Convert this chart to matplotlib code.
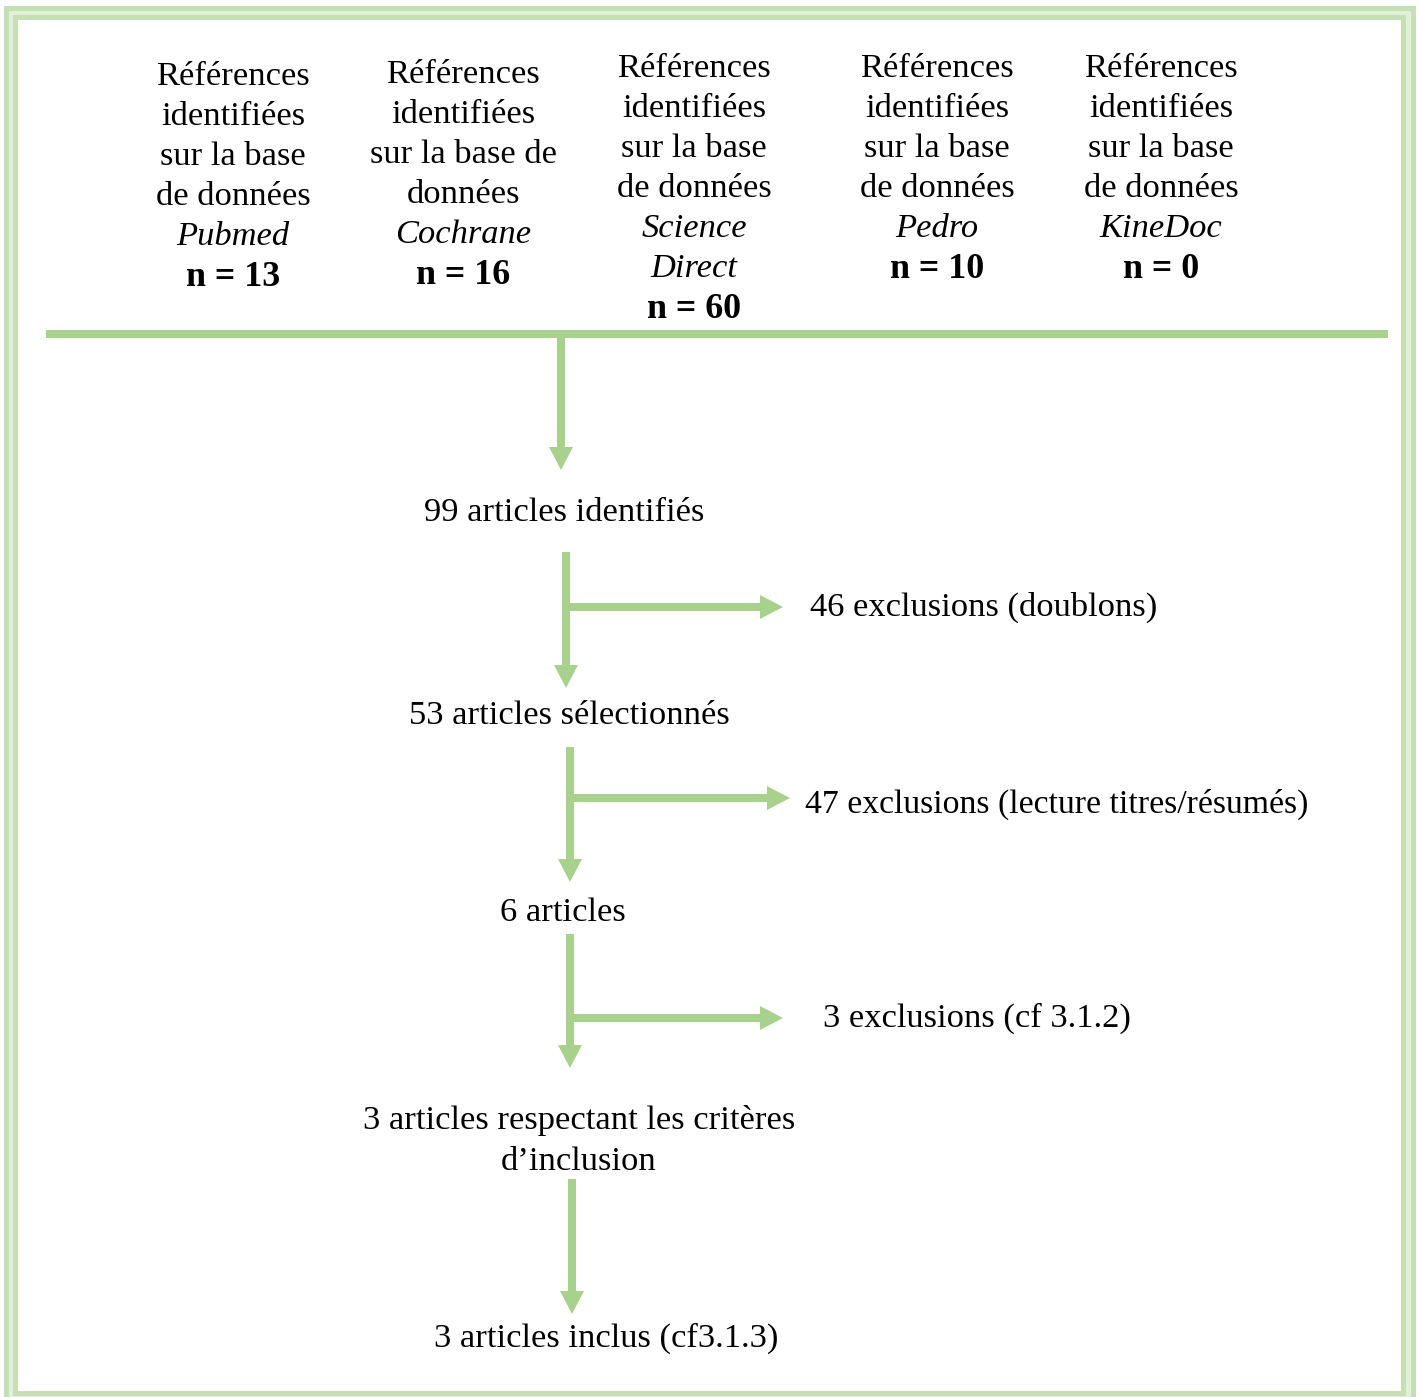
import matplotlib
import matplotlib.pyplot as plt
from matplotlib.patches import Rectangle, FancyArrow

matplotlib.use('agg')

# databases searched and hits per database
header_lines = [
    ['Références', 'identifiées', 'sur la base', 'de données'],
    ['Références', 'identifiées', 'sur la base de', 'données'],
    ['Références', 'identifiées', 'sur la base', 'de données'],
    ['Références', 'identifiées', 'sur la base', 'de données'],
    ['Références', 'identifiées', 'sur la base', 'de données'],
]
databases = [['Pubmed'], ['Cochrane'], ['Science', 'Direct'], ['Pedro'], ['KineDoc']]
counts = [13, 16, 60, 10, 0]

# selection steps
n_identified = 99
n_duplicates = 46
n_selected = 53
n_excl_abstract = 47
n_read = 6
n_excl_full = 3
n_eligible = 3
n_included = 3

GREEN = '#a9d18e'
DARK = '#c5e0b4'
LIGHT = '#e2f0d9'
FONT = 'Liberation Serif'
FS = 24.8

fig = plt.figure(figsize=(14.22, 13.97), dpi=100)
ax = fig.add_axes([0, 0, 1, 1])
ax.set_xlim(0, 1422)
ax.set_ylim(1397, 0)
ax.axis('off')

# triple green frame
for (x0, y0, x1, y1), c in [((4, 6, 1416, 1405), DARK), ((9, 11, 1411, 1400), LIGHT),
                            ((13, 15, 1406, 1396), DARK), ((18, 20, 1401, 1391), 'white')]:
    ax.add_patch(Rectangle((x0, y0), x1 - x0, y1 - y0, facecolor=c, edgecolor='none'))


def txt(x, y, s, ha='center', size=FS, **kw):
    ax.text(x, y, s, ha=ha, va='baseline', fontsize=size, family=FONT, color='black', **kw)


def arrow(x0, y0, x1, y1):
    ax.add_patch(FancyArrow(x0, y0, x1 - x0, y1 - y0, width=8, head_width=24, head_length=23,
                            length_includes_head=True, color=GREEN, lw=0))


# header columns
col_x = [233, 463, 694, 937, 1161]
col_top = [85, 83, 77, 77, 77]
step = 40
for i in range(len(counts)):
    y = col_top[i]
    for line in header_lines[i]:
        txt(col_x[i], y, line)
        y += step
    for line in databases[i]:
        txt(col_x[i], y, line, style='italic')
        y += step
    txt(col_x[i], y + 1, 'n = %d' % counts[i], weight='bold', size=FS + 1)

# separator line
ax.add_patch(Rectangle((46, 330), 1342, 8, facecolor=GREEN, edgecolor='none'))

# arrows
arrow(561, 336, 561, 470)
arrow(566, 552, 566, 688)
arrow(562, 607, 783, 607)
arrow(570, 747, 570, 882)
arrow(566, 798, 790, 798)
arrow(570, 934, 570, 1068)
arrow(566, 1018, 783, 1018)
arrow(572, 1179, 572, 1314)

# step labels
txt(564, 521, '%d articles identifiés' % n_identified)
txt(810, 616, '%d exclusions (doublons)' % n_duplicates, ha='left')
txt(569, 724, '%d articles sélectionnés' % n_selected)
txt(805, 813, '%d exclusions (lecture titres/résumés)' % n_excl_abstract, ha='left', size=FS * 0.98)
txt(563, 921, '%d articles' % n_read)
txt(823, 1027, '%d exclusions (cf 3.1.2)' % n_excl_full, ha='left')
txt(579, 1129, '%d articles respectant les critères' % n_eligible)
txt(579, 1170, 'd\u2019inclusion')
txt(606, 1347, '%d articles inclus (cf3.1.3)' % n_included)

plt.savefig('out.png', dpi=100)
